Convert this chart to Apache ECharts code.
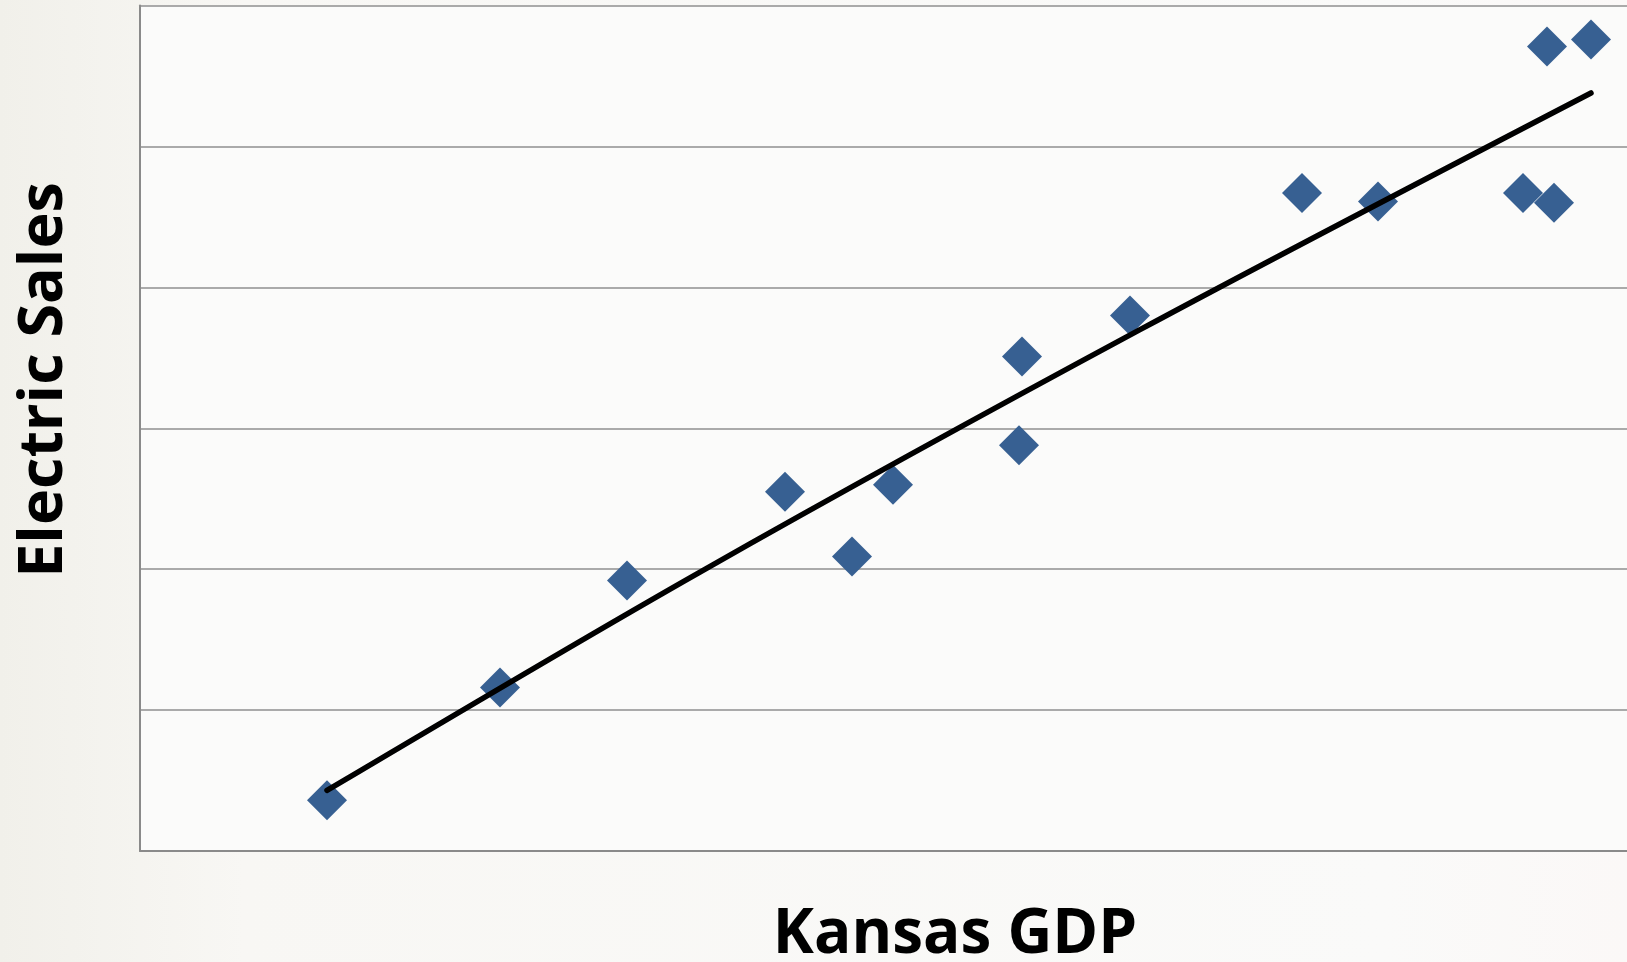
<!DOCTYPE html>
<html>
<head>
<meta charset="utf-8">
<script src="https://cdn.jsdelivr.net/npm/echarts@6/dist/echarts.min.js"></script>
<style>
html,body{margin:0;padding:0;background:#f6f5f1;}
#chart{width:1627px;height:962px;}
</style>
</head>
<body>
<div id="chart"></div>
<script>
// Kansas GDP (arbitrary units, no tick labels in source)
const gdp = [1.87, 3.60, 4.87, 6.45, 7.12, 7.53, 8.82, 8.79, 9.90, 11.62, 12.38, 13.83, 14.14, 14.07, 14.51];
// Electric Sales (arbitrary units)
const sales = [0.36, 1.16, 1.92, 2.55, 2.09, 2.60, 3.51, 2.88, 3.80, 4.67, 4.61, 4.67, 4.60, 5.71, 5.76];
// Trendline
const trendX = [1.87, 5.60, 10.00, 14.51];
const trendY = [0.43, 1.98, 3.70, 5.38];
const xTitle = 'Kansas GDP';
const yTitle = 'Electric Sales';

const chart = echarts.init(document.getElementById('chart'));
const pts = gdp.map((x, i) => [x, sales[i]]);
const trend = trendX.map((x, i) => [x, trendY[i]]);

chart.setOption({
  backgroundColor: {
    type: 'linear', x: 0, y: 0, x2: 1, y2: 0,
    colorStops: [
      {offset: 0, color: '#f1f0ea'},
      {offset: 0.15, color: '#f8f7f4'},
      {offset: 0.85, color: '#fafaf9'},
      {offset: 1, color: '#fbf8f7'}
    ]
  },
  animation: false,
  grid: {
    left: 140, top: 5.6, right: 0, bottom: 111,
    outerBoundsMode: 'none',
    show: true, backgroundColor: '#fbfbfa', borderWidth: 0
  },
  xAxis: {
    type: 'value', min: 0, max: 14.87,
    axisLine: {show: true, lineStyle: {color: '#8a8a8a', width: 2}},
    axisTick: {show: false}, axisLabel: {show: false},
    splitLine: {show: false}
  },
  yAxis: {
    type: 'value', min: 0, max: 6, interval: 1,
    axisLine: {show: true, lineStyle: {color: '#8a8a8a', width: 2}},
    axisTick: {show: false}, axisLabel: {show: false},
    splitLine: {show: true, lineStyle: {color: '#8f8f8f', width: 1.5}}
  },
  graphic: [
    {
      type: 'text', x: 955, y: 966,
      style: {
        text: xTitle, fill: '#000',
        font: 'bold 62px "Open Sans", sans-serif',
        textAlign: 'center', textVerticalAlign: 'bottom'
      }
    },
    {
      type: 'text', x: 45, y: 380, rotation: Math.PI / 2,
      style: {
        text: yTitle, fill: '#000',
        font: 'bold 61px "Open Sans", sans-serif',
        textAlign: 'center', textVerticalAlign: 'middle'
      }
    }
  ],
  series: [
    {
      type: 'scatter', data: pts, symbol: 'diamond', symbolSize: 40,
      itemStyle: {color: '#376092', opacity: 1}, z: 2
    },
    {
      type: 'line', data: trend, smooth: 0.3, showSymbol: false, symbol: 'none',
      lineStyle: {color: '#000', width: 5.5, cap: 'round'}, z: 3
    }
  ]
});
</script>
</body>
</html>
